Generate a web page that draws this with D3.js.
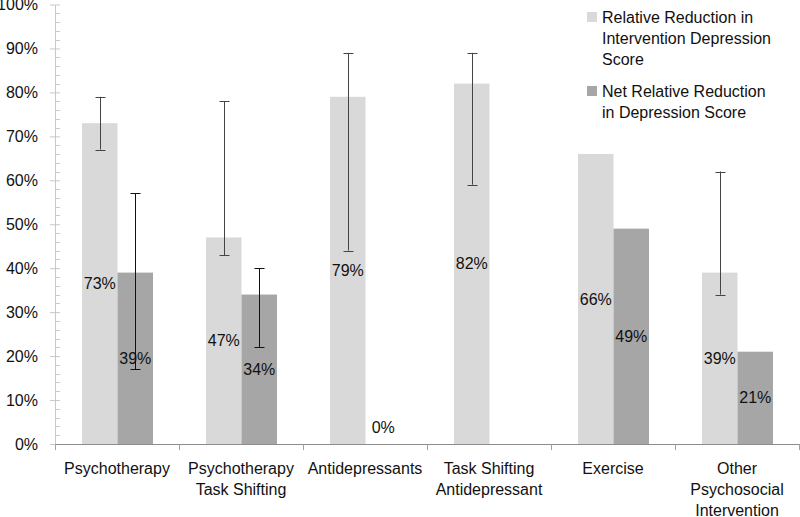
<!DOCTYPE html>
<html><head><meta charset="utf-8">
<script src="https://cdn.jsdelivr.net/npm/d3@7"></script>
<style>body{margin:0;background:#fff}svg{display:block}text{font-family:"Liberation Sans",Arial,sans-serif}</style>
</head><body><svg id="c" width="800" height="517"></svg>
<script>
const categories = ["Psychotherapy","Psychotherapy Task Shifting","Antidepressants","Task Shifting Antidepressant","Exercise","Other Psychosocial Intervention"];
const categoryLines = [["Psychotherapy"],["Psychotherapy","Task Shifting"],["Antidepressants"],["Task Shifting","Antidepressant"],["Exercise"],["Other","Psychosocial","Intervention"]];
const seriesNames = ["Relative Reduction in Intervention Depression Score","Net Relative Reduction in Depression Score"];
const legendLines = [["Relative Reduction in","Intervention Depression","Score"],["Net Relative Reduction","in Depression Score"]];
const relative = [73,47,79,82,66,39];
const relativeLow = [67,43,44,59,null,34];
const relativeHigh = [79,78,89,89,null,62];
const net = [39,34,0,null,49,21];
const netLow = [17,22,null,null,null,null];
const netHigh = [57,40,null,null,null,null];
const yTicks = [0,10,20,30,40,50,60,70,80,90,100];
const colors = ["#d9d9d9","#a6a6a6"];

const svg = d3.select("#c");
const y = d3.scaleLinear().domain([0,100]).range([444,4.5]);
const x = d3.scaleBand().domain(categories).range([55,799]).padding(0);
const xi = d3.scaleBand().domain([0,1]).range([27,98]);

// minor ticks
svg.append("g").selectAll("line").data(d3.range(0,101,2).filter(v=>v%10!==0)).join("line")
  .attr("x1",55).attr("x2",60).attr("y1",d=>Math.round(y(d))+0.5).attr("y2",d=>Math.round(y(d))+0.5)
  .attr("stroke","#c8c8c8");
// y axis
const ya = d3.axisLeft(y).tickValues(yTicks).tickFormat(d=>d+"%").tickSize(0).tickPadding(17);
const yg = svg.append("g").attr("transform","translate(55,0)").call(ya);
yg.select(".domain").attr("stroke","#c8c8c8");
yg.selectAll("text").attr("font-size",16).attr("fill","#111");
yg.selectAll(".tick").append("line").attr("x1",-5).attr("x2",5).attr("stroke","#c8c8c8");

// bars
const series = [relative, net];
const lows = [relativeLow, netLow];
const highs = [relativeHigh, netHigh];
series.forEach((vals,s)=>{
  const g = svg.append("g");
  categories.forEach((c,i)=>{
    const v = vals[i];
    if (v===null) return;
    const bx = x(c)+xi(s), bw = xi.bandwidth();
    if (v>0) g.append("rect").attr("x",bx).attr("y",y(v)).attr("width",bw).attr("height",y(0)-y(v)).attr("fill",colors[s]);
  });
});
// x axis
const xa = d3.axisBottom(x).tickSize(0).tickFormat("");
const xg = svg.append("g").attr("transform","translate(0,444)").call(xa);
xg.select(".domain").attr("stroke","#8c8c8c");
svg.append("g").selectAll("line").data(d3.range(categories.length+1)).join("line")
  .attr("x1",d=>55+d*x.bandwidth()+0.5).attr("x2",d=>55+d*x.bandwidth()+0.5)
  .attr("y1",444).attr("y2",450).attr("stroke","#a0a0a0");

// error bars
series.forEach((vals,s)=>{
  const g = svg.append("g").attr("stroke", s===0?"#444":"#111").attr("stroke-width",1);
  categories.forEach((c,i)=>{
    const lo = lows[s][i], hi = highs[s][i];
    if (lo===null || hi===null) return;
    const cx = Math.round(x(c)+xi(s)+xi.bandwidth()/2)+0.5;
    g.append("line").attr("x1",cx).attr("x2",cx).attr("y1",y(hi)).attr("y2",y(lo));
    g.append("line").attr("x1",cx-5).attr("x2",cx+5).attr("y1",Math.round(y(hi))+0.5).attr("y2",Math.round(y(hi))+0.5);
    g.append("line").attr("x1",cx-5).attr("x2",cx+5).attr("y1",Math.round(y(lo))+0.5).attr("y2",Math.round(y(lo))+0.5);
  });
});

// data labels
series.forEach((vals,s)=>{
  categories.forEach((c,i)=>{
    const v = vals[i];
    if (v===null) return;
    const cx = x(c)+xi(s)+xi.bandwidth()/2;
    const cy = v>0 ? (y(v)+y(0))/2 : y(0)-17;
    svg.append("text").attr("x",cx).attr("y",cy).attr("dy","0.35em").attr("text-anchor","middle")
      .attr("font-size",16).attr("fill","#111").text(v+"%");
  });
});

// category labels
categories.forEach((c,i)=>{
  const t = svg.append("text").attr("text-anchor","middle").attr("font-size",16).attr("fill","#111");
  categoryLines[i].forEach((ln,j)=>{
    t.append("tspan").attr("x",x(c)+x.bandwidth()/2).attr("y",474+j*21).text(ln);
  });
});

// legend
const legY = [12,86];
seriesNames.forEach((n,s)=>{
  svg.append("rect").attr("x",587).attr("y",legY[s]).attr("width",10).attr("height",10).attr("fill",colors[s]);
  const t = svg.append("text").attr("font-size",16).attr("fill","#111");
  legendLines[s].forEach((ln,j)=>{
    t.append("tspan").attr("x",602).attr("y",legY[s]+11+j*21).text(ln);
  });
});
</script></body></html>
